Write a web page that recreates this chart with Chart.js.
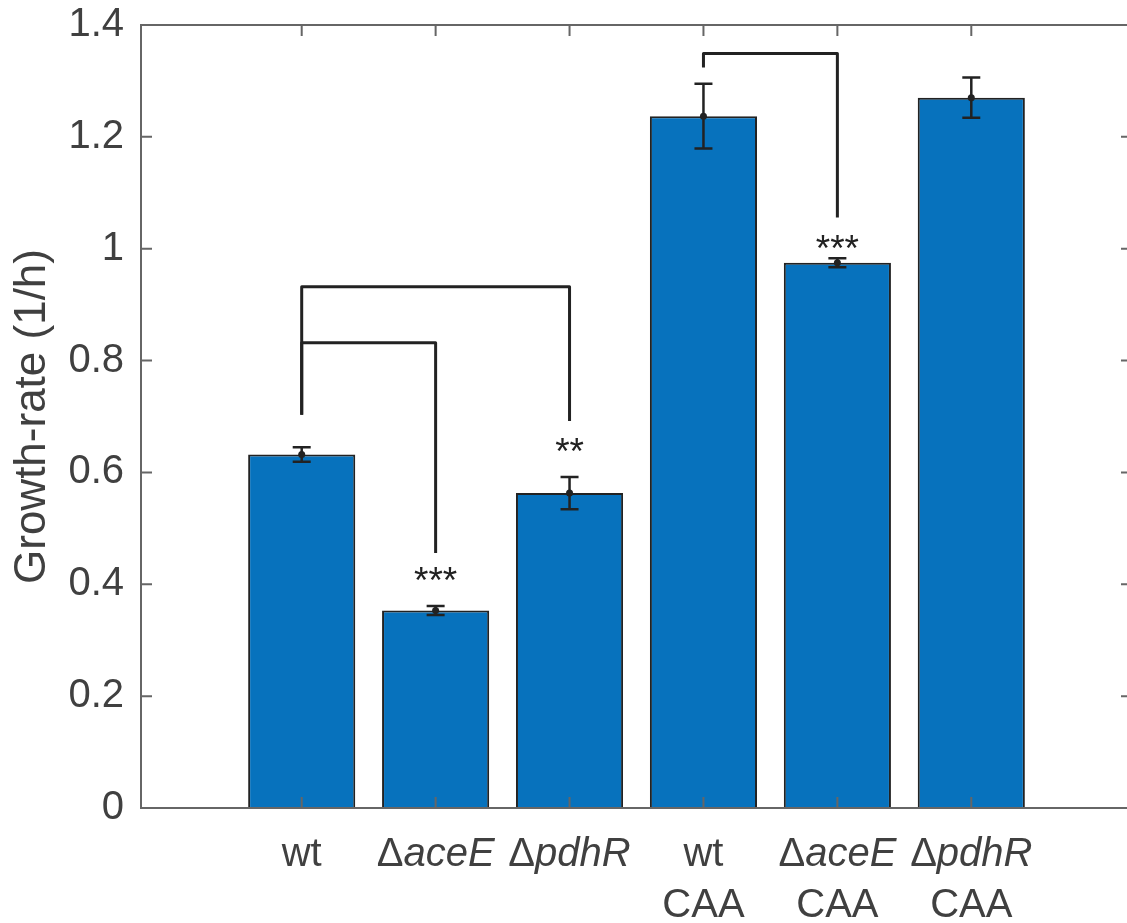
<!DOCTYPE html>
<html>
<head>
<meta charset="utf-8">
<script src="https://cdn.jsdelivr.net/npm/chart.js@4/dist/chart.umd.min.js"></script>
<style>
    html, body { margin: 0; padding: 0; background: #fff; overflow: hidden; }
    #canvasParent { width: 1140px; height: 923px; }
</style>
</head>
<body>
<div id="canvasParent"><canvas id="canvas" width="1140" height="923"></canvas></div>
<script>
// 株ごとの増殖速度 (1/h)
const strainGene = ['wt', 'aceE', 'pdhR', 'wt', 'aceE', 'pdhR'];
const strainDeleted = [false, true, true, false, true, true];
const strainMedium = ['', '', '', 'CAA', 'CAA', 'CAA'];
const growthRate = [0.632, 0.353, 0.563, 1.237, 0.975, 1.270];
const growthErr = [0.013, 0.008, 0.029, 0.058, 0.008, 0.036];

// 有意差の括弧 (左の棒, 右の棒, 横線の高さ, 左足の下端, 右足の下端)
const bracketLeft = [1, 1, 4];
const bracketRight = [3, 2, 5];
const bracketTop = [0.932, 0.832, 1.349];
const bracketLeftEnd = [0.703, 0.703, 1.324];
const bracketRightEnd = [0.692, 0.456, 1.056];

// アスタリスク
const starBar = [2, 3, 5];
const starText = ['***', '**', '***'];
const starLevel = [0.422, 0.653, 1.016];

const yTicks = [0, 0.2, 0.4, 0.6, 0.8, 1, 1.2, 1.4];

const barColor = '#0772BD';
const inkColor = '#222222';
const axisColor = '#666666';
const textColor = '#404040';
const fontName = '"Liberation Sans", Arial, sans-serif';

const positions = growthRate.map((v, i) => i + 1);

// 枠線と内向きの目盛り
const framePlugin = {
    id: 'frame',
    afterDatasetsDraw(chart) {
        const ctx = chart.ctx;
        const a = chart.chartArea;
        const xs = chart.scales.x;
        const ys = chart.scales.y;
        const len = 11;
        ctx.save();
        ctx.strokeStyle = axisColor;
        ctx.lineWidth = 2;
        ctx.beginPath();
        ctx.rect(a.left, a.top, a.right - a.left, a.bottom - a.top);
        positions.forEach(p => {
            const px = xs.getPixelForValue(p);
            ctx.moveTo(px, a.bottom); ctx.lineTo(px, a.bottom - len);
            ctx.moveTo(px, a.top); ctx.lineTo(px, a.top + len);
        });
        yTicks.forEach(t => {
            const py = ys.getPixelForValue(t);
            ctx.moveTo(a.left, py); ctx.lineTo(a.left + len, py);
            ctx.moveTo(a.right, py); ctx.lineTo(a.right - len, py);
        });
        ctx.stroke();
        ctx.restore();
    }
};

// エラーバー
const errorBarPlugin = {
    id: 'errorBars',
    afterDatasetsDraw(chart) {
        const ctx = chart.ctx;
        const xs = chart.scales.x;
        const ys = chart.scales.y;
        ctx.save();
        ctx.strokeStyle = inkColor;
        ctx.fillStyle = inkColor;
        ctx.lineWidth = 2.5;
        growthRate.forEach((v, i) => {
            const px = xs.getPixelForValue(positions[i]);
            const hi = ys.getPixelForValue(v + growthErr[i]);
            const lo = ys.getPixelForValue(v - growthErr[i]);
            const mid = ys.getPixelForValue(v);
            ctx.beginPath();
            ctx.moveTo(px, hi); ctx.lineTo(px, lo);
            ctx.moveTo(px - 9, hi); ctx.lineTo(px + 9, hi);
            ctx.moveTo(px - 9, lo); ctx.lineTo(px + 9, lo);
            ctx.stroke();
            ctx.beginPath();
            ctx.arc(px, mid, 3.5, 0, Math.PI * 2);
            ctx.fill();
        });
        ctx.restore();
    }
};

// 有意差の括弧とアスタリスク
const significancePlugin = {
    id: 'significance',
    afterDatasetsDraw(chart) {
        const ctx = chart.ctx;
        const xs = chart.scales.x;
        const ys = chart.scales.y;
        ctx.save();
        ctx.strokeStyle = inkColor;
        ctx.lineWidth = 3;
        ctx.lineJoin = 'round';
        for (let i = 0; i < bracketLeft.length; i++) {
            const x1 = xs.getPixelForValue(bracketLeft[i]);
            const x2 = xs.getPixelForValue(bracketRight[i]);
            ctx.beginPath();
            ctx.moveTo(x1, ys.getPixelForValue(bracketLeftEnd[i]));
            ctx.lineTo(x1, ys.getPixelForValue(bracketTop[i]));
            ctx.lineTo(x2, ys.getPixelForValue(bracketTop[i]));
            ctx.lineTo(x2, ys.getPixelForValue(bracketRightEnd[i]));
            ctx.stroke();
        }
        const size = 37;
        ctx.fillStyle = inkColor;
        ctx.font = size + 'px ' + fontName;
        ctx.textAlign = 'center';
        ctx.textBaseline = 'alphabetic';
        for (let i = 0; i < starBar.length; i++) {
            const px = xs.getPixelForValue(starBar[i]);
            const py = ys.getPixelForValue(starLevel[i]) + size * 0.58;
            ctx.fillText(starText[i], px, py);
        }
        ctx.restore();
    }
};

// x軸ラベル (遺伝子名だけ斜体)
const xLabelPlugin = {
    id: 'xLabels',
    afterDraw(chart) {
        const ctx = chart.ctx;
        const xs = chart.scales.x;
        const base = chart.chartArea.bottom;
        const upright = '40px ' + fontName;
        const italic = 'italic 40px ' + fontName;
        ctx.save();
        ctx.fillStyle = textColor;
        ctx.textBaseline = 'alphabetic';
        ctx.textAlign = 'left';
        positions.forEach((p, i) => {
            const px = xs.getPixelForValue(p);
            const y1 = base + 58;
            if (strainDeleted[i]) {
                ctx.font = upright;
                const w1 = ctx.measureText('\u0394').width;
                ctx.font = italic;
                const w2 = ctx.measureText(strainGene[i]).width;
                let x = px - (w1 + w2) / 2;
                ctx.font = upright;
                ctx.fillText('\u0394', x, y1);
                ctx.font = italic;
                ctx.fillText(strainGene[i], x + w1, y1);
            } else {
                ctx.font = upright;
                const w = ctx.measureText(strainGene[i]).width;
                ctx.fillText(strainGene[i], px - w / 2, y1);
            }
            if (strainMedium[i]) {
                ctx.font = upright;
                const w = ctx.measureText(strainMedium[i]).width;
                ctx.fillText(strainMedium[i], px - w / 2, base + 109);
            }
        });
        ctx.restore();
    }
};

let canvas = document.getElementById('canvas');
const ctx = canvas.getContext('2d');
let chartInstance = new Chart(ctx, {
    type: 'bar',
    data: {
        datasets: [{
            data: positions.map((p, i) => ({x: p, y: growthRate[i]})),
            backgroundColor: barColor,
            borderColor: inkColor,
            borderWidth: 2,
            barPercentage: 0.8,
            categoryPercentage: 1.0
        }]
    },
    options: {
        responsive: false,
        animation: false,
        layout: { padding: { top: 25, right: 8, left: 0, bottom: 0 } },
        plugins: {
            legend: { display: false },
            tooltip: { enabled: false }
        },
        scales: {
            x: {
                type: 'linear',
                offset: false,
                min: -0.2,
                max: 7.2,
                afterBuildTicks: s => { s.ticks = positions.map(p => ({value: p})); },
                afterFit: s => { s.height = 115; s.paddingLeft = 0; s.paddingRight = 0; },
                grid: { display: false },
                border: { display: false },
                ticks: { display: false }
            },
            y: {
                min: 0,
                max: 1.4,
                afterBuildTicks: s => { s.ticks = yTicks.map(v => ({value: v})); },
                afterFit: s => { s.width = 141; s.paddingTop = 0; s.paddingBottom = 0; },
                grid: { display: false, drawTicks: false },
                border: { display: false },
                ticks: {
                    padding: 17,
                    color: textColor,
                    font: { family: fontName, size: 40 },
                    callback: v => String(+v.toFixed(1))
                },
                title: {
                    display: true,
                    text: 'Growth-rate (1/h)',
                    color: textColor,
                    font: { family: fontName, size: 44 },
                    padding: { top: 6, bottom: 0 }
                }
            }
        }
    },
    plugins: [framePlugin, errorBarPlugin, significancePlugin, xLabelPlugin]
});
</script>
</body>
</html>
